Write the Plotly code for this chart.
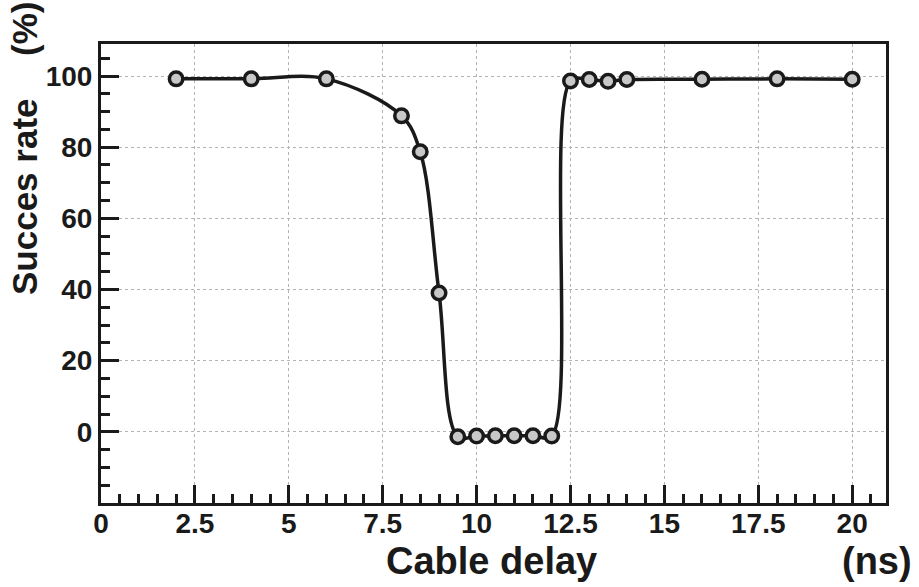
import plotly.graph_objects as go

# Cable delay scan: success rate versus delay
delay_ns = [2, 4, 6, 8, 8.5, 9, 9.5, 10, 10.5, 11, 11.5, 12, 12.5, 13, 13.5, 14, 16, 18, 20]
success_pct = [99.2, 99.2, 99.2, 88.8, 78.7, 39, -1.4, -1.2, -1.1, -1.1, -1.1, -1.2, 98.6, 99, 98.5, 99, 99.1, 99.2, 99.1]

x_ticks = [0, 2.5, 5, 7.5, 10, 12.5, 15, 17.5, 20]
x_tick_text = ["0", "2.5", "5", "7.5", "10", "12.5", "15", "17.5", "20"]
y_ticks = [0, 20, 40, 60, 80, 100]

FONT = "Liberation Sans, Arial, Helvetica, sans-serif"
INK = "#1a1a1a"

fig = go.Figure()
fig.add_trace(go.Scatter(
    x=delay_ns, y=success_pct,
    mode="lines+markers",
    line=dict(color=INK, width=3.5, shape="spline", smoothing=1.0),
    marker=dict(size=13.5, color="#c8c8c8", line=dict(color=INK, width=3.5)),
    showlegend=False,
))

axis_common = dict(
    showline=True, linecolor=INK, linewidth=3, mirror=True,
    ticks="inside", tickcolor=INK, tickwidth=3, ticklen=18,
    showgrid=True, gridcolor="#b4b4b4", griddash="dot", gridwidth=1,
    zeroline=False,
    tickfont=dict(family=FONT, size=28, color=INK, weight="bold"),
)

fig.update_xaxes(
    range=[0, 20.9], tickvals=x_ticks, ticktext=x_tick_text,
    ticklabelstandoff=-7,
    minor=dict(dtick=0.5, tick0=0, ticks="inside", ticklen=9, tickwidth=3,
               tickcolor=INK, showgrid=False),
    **axis_common,
)
fig.update_yaxes(
    range=[-20, 109], tickvals=y_ticks,
    minor=dict(dtick=5, tick0=0, ticks="inside", ticklen=9, tickwidth=3,
               tickcolor=INK, showgrid=False),
    **axis_common,
)

W, H = 919, 587
L, R, T, B = 101, 33, 44, 84


def page_to_paper(px, py):
    """Convert page pixel coordinates into paper coordinates."""
    return (px - L) / (W - L - R), 1 - (py - T) / (H - T - B)


title_font = dict(family=FONT, size=38, color=INK, weight="bold")
ytitle_font = dict(family=FONT, size=35, color=INK, weight="bold")

for text, px, py, xanchor, angle, font in [
    ("Cable delay", 491, 561, "center", 0, title_font),
    ("(ns)", 914, 561, "right", 0, title_font),
    ("Succes rate", 25, 197, "center", -90, ytitle_font),
    ("(%)", 25, 29, "center", -90, ytitle_font),
]:
    ax, ay = page_to_paper(px, py)
    fig.add_annotation(text=text, x=ax, y=ay, xref="paper", yref="paper",
                       xanchor=xanchor, yanchor="middle", textangle=angle,
                       showarrow=False, font=font)

fig.update_layout(
    width=W, height=H,
    margin=dict(l=L, r=R, t=T, b=B),
    paper_bgcolor="white", plot_bgcolor="white",
)

fig.write_html("out.html")
